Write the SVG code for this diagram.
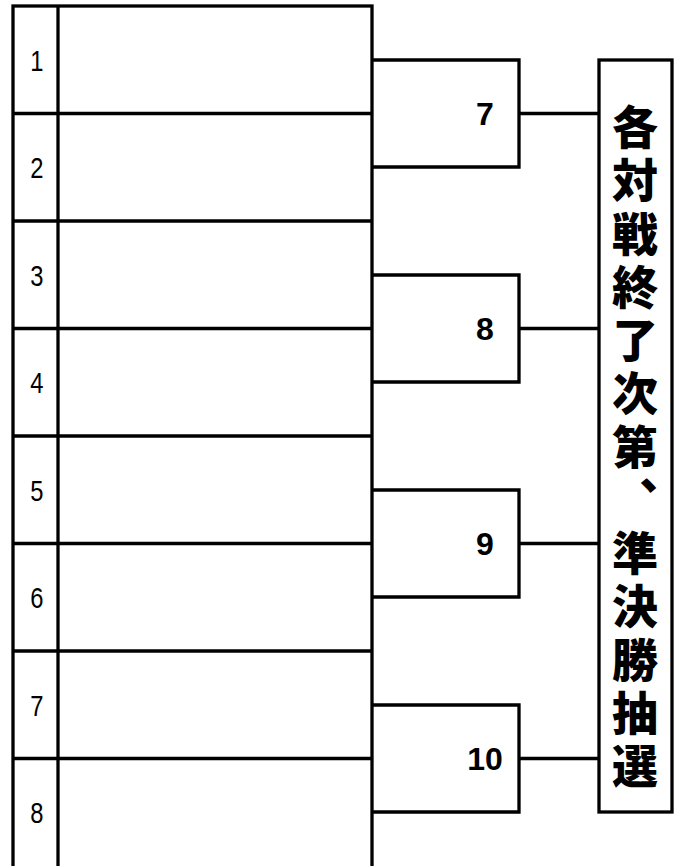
<svg xmlns="http://www.w3.org/2000/svg" width="683" height="866" viewBox="0 0 683 866">
<style>
.ln{fill:none;stroke:#000;stroke-width:3.3}
.num{font-family:"Liberation Sans",Arial,sans-serif;font-size:29px;text-anchor:middle;fill:#000}
.mnum{font-family:"Liberation Sans",Arial,sans-serif;font-size:32px;font-weight:bold;text-anchor:middle;fill:#000}
.vt{font-family:"Noto Sans CJK JP","Noto Sans CJK SC",sans-serif;font-size:46px;font-weight:900;fill:#000;writing-mode:vertical-rl}
</style>
<rect width="683" height="866" fill="#fff"/>
<g id="table">
<rect class="ln" x="13" y="6" width="359" height="862"/>
<line class="ln" x1="58" y1="6" x2="58" y2="866"/>
<line class="ln" x1="13" y1="113.5" x2="372" y2="113.5"/>
<line class="ln" x1="13" y1="221" x2="372" y2="221"/>
<line class="ln" x1="13" y1="328.5" x2="372" y2="328.5"/>
<line class="ln" x1="13" y1="436" x2="372" y2="436"/>
<line class="ln" x1="13" y1="543.5" x2="372" y2="543.5"/>
<line class="ln" x1="13" y1="651" x2="372" y2="651"/>
<line class="ln" x1="13" y1="758.5" x2="372" y2="758.5"/>
<g transform="scale(0.82,1)">
<text class="num" x="45" y="71">1</text>
<text class="num" x="45" y="178">2</text>
<text class="num" x="45" y="286">3</text>
<text class="num" x="45" y="393">4</text>
<text class="num" x="45" y="501">5</text>
<text class="num" x="45" y="608">6</text>
<text class="num" x="45" y="716">7</text>
<text class="num" x="45" y="823">8</text>
</g>
</g>
<g id="match7">
<polyline class="ln" points="372,60 519,60 519,167 372,167"/>
<text class="mnum" x="485" y="125">7</text>
</g>
<g id="match8">
<polyline class="ln" points="372,275 519,275 519,382 372,382"/>
<text class="mnum" x="485" y="340">8</text>
</g>
<g id="match9">
<polyline class="ln" points="372,490 519,490 519,597 372,597"/>
<text class="mnum" x="485" y="555">9</text>
</g>
<g id="match10">
<polyline class="ln" points="372,705 519,705 519,812 372,812"/>
<text class="mnum" x="485" y="770">10</text>
</g>
<g id="connectors">
<line class="ln" x1="519" y1="113.5" x2="599" y2="113.5"/>
<line class="ln" x1="519" y1="328.5" x2="599" y2="328.5"/>
<line class="ln" x1="519" y1="543.5" x2="599" y2="543.5"/>
<line class="ln" x1="519" y1="758.5" x2="599" y2="758.5"/>
</g>
<g id="draw-box">
<rect class="ln" x="599" y="60" width="73" height="752"/>
<text class="vt" x="635" y="104">各</text>
<text class="vt" x="635" y="157">対</text>
<text class="vt" x="635" y="211">戦</text>
<text class="vt" x="635" y="264">終</text>
<text class="vt" x="635" y="317">了</text>
<text class="vt" x="635" y="370">次</text>
<text class="vt" x="635" y="424">第</text>
<text class="vt" x="635" y="477">、</text>
<text class="vt" x="635" y="530">準</text>
<text class="vt" x="635" y="583">決</text>
<text class="vt" x="635" y="637">勝</text>
<text class="vt" x="635" y="690">抽</text>
<text class="vt" x="635" y="743">選</text>
</g>
</svg>
